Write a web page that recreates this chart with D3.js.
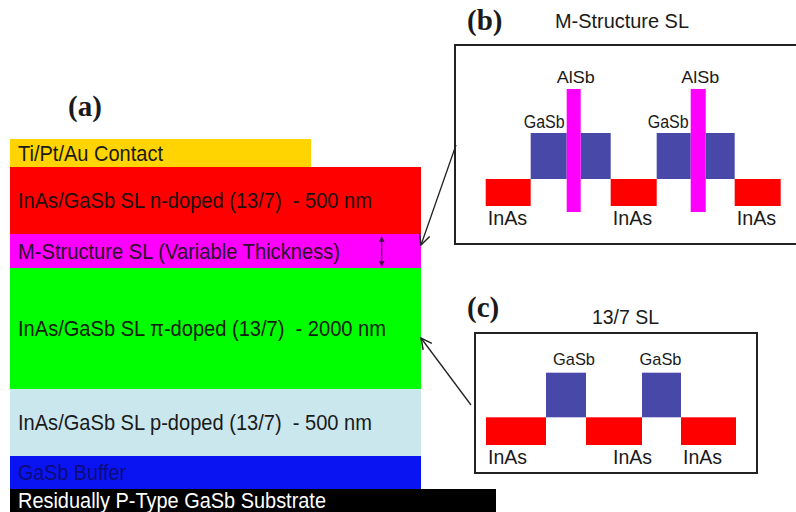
<!DOCTYPE html>
<html>
<head>
<meta charset="utf-8">
<script src="https://cdn.jsdelivr.net/npm/d3@7"></script>
<style>
  html, body { margin: 0; padding: 0; background: #ffffff; }
  svg { display: block; }
  text { white-space: pre; }
</style>
</head>
<body>
<script>
// ---------------- DATA ----------------
// (a) layer stack, top to bottom
const layerLabels = [
  "Ti/Pt/Au Contact",
  "InAs/GaSb SL n-doped (13/7)  - 500 nm",
  "M-Structure SL (Variable Thickness)",
  "InAs/GaSb SL \u03c0-doped (13/7)  - 2000 nm",
  "InAs/GaSb SL p-doped (13/7)  - 500 nm",
  "GaSb Buffer",
  "Residually P-Type GaSb Substrate"
];
const layerThickness = [28, 67, 34, 121, 67, 33, 23];     // drawn thickness (relative units)
const layerExtent    = [301, 411, 411, 411, 411, 411, 486]; // lateral extent (relative units)

// (b) M-structure superlattice sequence
const mMaterials = ["InAs", "GaSb", "AlSb", "GaSb", "InAs", "GaSb", "AlSb", "GaSb", "InAs"];
const mWidths    = [45, 36, 14, 30, 46, 34, 15, 29, 46];
const mBandLow   = { InAs: 38, GaSb: 65, AlSb: 32 };
const mBandHigh  = { InAs: 65, GaSb: 111, AlSb: 155 };

// (c) 13/7 superlattice sequence
const cMaterials = ["InAs", "GaSb", "InAs", "GaSb", "InAs"];
const cWidths    = [60, 40, 56, 39, 55];
const cBandLow   = { InAs: 28, GaSb: 55.7 };
const cBandHigh  = { InAs: 55.7, GaSb: 100.3 };

const panelLabels = ["(a)", "(b)", "(c)"];
const panelTitles = ["M-Structure SL", "13/7 SL"];

// ---------------- STYLE ----------------
const layerFill = ["#FFD400", "#FF0000", "#FF00FF", "#00FF00", "#CBE7EE", "#0A14F2", "#000000"];
const layerTextColor = ["#1a1a1a", "#1e1010", "#2a102a", "#102010", "#1a1a1a", "#0c0c7a", "#ffffff"];
const layerTextLen = [145, 354, 322, 368, 354, 108, 308];
const matFill = { InAs: "#FF0000", GaSb: "#4848A8", AlSb: "#FF00FF" };
const SANS = "'Liberation Sans', Arial, Helvetica, sans-serif";
const SERIF = "'Liberation Serif', 'Times New Roman', serif";

const W = 796, H = 512;
const svg = d3.select("body").append("svg")
  .attr("width", W).attr("height", H)
  .attr("viewBox", `0 0 ${W} ${H}`);
svg.append("rect").attr("width", W).attr("height", H).attr("fill", "#fff");

const defs = svg.append("defs");
defs.append("marker")
  .attr("id", "openHead").attr("viewBox", "0 0 12 12")
  .attr("refX", 11).attr("refY", 6)
  .attr("markerWidth", 13).attr("markerHeight", 13)
  .attr("markerUnits", "userSpaceOnUse")
  .attr("orient", "auto")
  .append("path").attr("d", "M1,1 L11,6 L1,11")
  .attr("fill", "none").attr("stroke", "#222").attr("stroke-width", 1.4);
["dEnd", "dStart"].forEach((id, i) => {
  defs.append("marker")
    .attr("id", id).attr("viewBox", "0 0 8 8")
    .attr("refX", 7).attr("refY", 4)
    .attr("markerWidth", 6).attr("markerHeight", 6)
    .attr("markerUnits", "userSpaceOnUse")
    .attr("orient", i === 0 ? "auto" : "auto-start-reverse")
    .append("path").attr("d", "M0,0 L8,4 L0,8 Z").attr("fill", "#4a0a4a");
});

// ---------------- (a) layer stack ----------------
const totalThick = d3.sum(layerThickness);
const yA = d3.scaleLinear().domain([0, totalThick]).range([139, 512]);
const xA = d3.scaleLinear().domain([0, 486]).range([10, 496]);
const cum = d3.cumsum(layerThickness);
const layers = layerLabels.map((lab, i) => ({
  label: lab, i,
  top: i === 0 ? 0 : cum[i - 1],
  bottom: cum[i],
  extent: layerExtent[i]
}));

const gA = svg.append("g");
gA.selectAll("rect.layer").data(layers).join("rect")
  .attr("class", "layer")
  .attr("x", xA(0))
  .attr("y", d => yA(d.top))
  .attr("width", d => xA(d.extent) - xA(0))
  .attr("height", d => yA(d.bottom) - yA(d.top))
  .attr("fill", d => layerFill[d.i]);

gA.selectAll("text.layer").data(layers).join("text")
  .attr("class", "layer")
  .attr("x", xA(8))
  .attr("y", d => (yA(d.top) + yA(d.bottom)) / 2 + 7.5)
  .attr("font-family", SANS).attr("font-size", 21.5)
  .attr("textLength", d => layerTextLen[d.i])
  .attr("lengthAdjust", "spacingAndGlyphs")
  .attr("fill", d => layerTextColor[d.i])
  .text(d => d.label);

// double arrow in M-structure layer
const mLayer = layers[2];
gA.append("line")
  .attr("x1", xA(371.7)).attr("x2", xA(371.7))
  .attr("y1", yA(mLayer.top) + 3).attr("y2", yA(mLayer.bottom) - 2)
  .attr("stroke", "#4a0a4a").attr("stroke-width", 1.2)
  .attr("marker-start", "url(#dStart)").attr("marker-end", "url(#dEnd)");

// ---------------- (b) M-structure ----------------
const xB = d3.scaleLinear().domain([0, 341]).range([455, 796]);
const yB = d3.scaleLinear().domain([0, 199]).range([244, 45]);
const mStart = 30.7;
const mCum = d3.cumsum(mWidths);
const mSegs = mMaterials.map((m, i) => ({
  mat: m, i,
  x0: mStart + (i === 0 ? 0 : mCum[i - 1]),
  x1: mStart + mCum[i]
}));

const gB = svg.append("g");
gB.append("rect")
  .attr("x", xB(0)).attr("y", yB(199))
  .attr("width", 360).attr("height", yB(0) - yB(199))
  .attr("fill", "none").attr("stroke", "#222").attr("stroke-width", 2);

// draw non-AlSb first, AlSb on top
const mOrder = mSegs.filter(d => d.mat !== "AlSb").concat(mSegs.filter(d => d.mat === "AlSb"));
gB.selectAll("rect.seg").data(mOrder).join("rect")
  .attr("class", "seg")
  .attr("x", d => xB(d.x0))
  .attr("y", d => yB(mBandHigh[d.mat]))
  .attr("width", d => xB(d.x1) - xB(d.x0))
  .attr("height", d => yB(mBandLow[d.mat]) - yB(mBandHigh[d.mat]))
  .attr("fill", d => matFill[d.mat]);

// labels
const mLabelData = [];
mSegs.forEach((d, i) => {
  if (d.mat === "InAs") {
    mLabelData.push({ t: "InAs", x: xB(d.x0) + 2, y: yB(mBandLow.InAs) + 18.5, anchor: "start", size: 20.5, len: 39.5 });
  } else if (d.mat === "AlSb") {
    mLabelData.push({ t: "AlSb", x: (xB(d.x0) + xB(d.x1)) / 2 + 2, y: yB(mBandHigh.AlSb) - 6, anchor: "middle", size: 17, len: 38 });
  } else if (d.mat === "GaSb" && mSegs[i + 1] && mSegs[i + 1].mat === "AlSb") {
    mLabelData.push({ t: "GaSb", x: xB(d.x1) - 2, y: yB(mBandHigh.GaSb) - 5, anchor: "end", size: 17.5, len: 41 });
  }
});
gB.selectAll("text.lab").data(mLabelData).join("text")
  .attr("class", "lab")
  .attr("x", d => d.x).attr("y", d => d.y)
  .attr("text-anchor", d => d.anchor)
  .attr("font-family", SANS).attr("font-size", d => d.size)
  .attr("textLength", d => d.len).attr("lengthAdjust", "spacingAndGlyphs")
  .attr("fill", "#1a1a1a")
  .text(d => d.t);

// ---------------- (c) 13/7 SL ----------------
const xC = d3.scaleLinear().domain([0, 282]).range([475, 757]);
const yC = d3.scaleLinear().domain([0, 140]).range([473, 333]);
const cStart = 11;
const cCum = d3.cumsum(cWidths);
const cSegs = cMaterials.map((m, i) => ({
  mat: m, i,
  x0: cStart + (i === 0 ? 0 : cCum[i - 1]),
  x1: cStart + cCum[i]
}));

const gC = svg.append("g");
gC.append("rect")
  .attr("x", xC(0)).attr("y", yC(140))
  .attr("width", xC(282) - xC(0)).attr("height", yC(0) - yC(140))
  .attr("fill", "none").attr("stroke", "#222").attr("stroke-width", 2);

gC.selectAll("rect.seg").data(cSegs).join("rect")
  .attr("class", "seg")
  .attr("x", d => xC(d.x0))
  .attr("y", d => yC(cBandHigh[d.mat]))
  .attr("width", d => xC(d.x1) - xC(d.x0))
  .attr("height", d => yC(cBandLow[d.mat]) - yC(cBandHigh[d.mat]))
  .attr("fill", d => matFill[d.mat]);

let inasCount = 0;
const cLabelData = cSegs.map(d => {
  if (d.mat === "InAs") {
    const k = inasCount++;
    if (k === 1) return { t: "InAs", x: xC(d.x1) + 10, y: yC(cBandLow.InAs) + 18.5, anchor: "end", size: 20, len: 39 };
    return { t: "InAs", x: xC(d.x0) + 2, y: yC(cBandLow.InAs) + 18.5, anchor: "start", size: 20, len: 39 };
  }
  return { t: "GaSb", x: (xC(d.x0) + xC(d.x1)) / 2 + (d.i === 1 ? 8 : -1), y: yC(cBandHigh.GaSb) - 8, anchor: "middle", size: 17, len: 42 };
});
gC.selectAll("text.lab").data(cLabelData).join("text")
  .attr("class", "lab")
  .attr("x", d => d.x).attr("y", d => d.y)
  .attr("text-anchor", d => d.anchor)
  .attr("font-family", SANS).attr("font-size", d => d.size)
  .attr("textLength", d => d.len).attr("lengthAdjust", "spacingAndGlyphs")
  .attr("fill", "#1a1a1a")
  .text(d => d.t);

// ---------------- arrows ----------------
svg.append("line")
  .attr("x1", xB(0) + 1).attr("y1", 145)
  .attr("x2", xA(411)).attr("y2", yA(mLayer.top) + 11)
  .attr("stroke", "#222").attr("stroke-width", 1.3)
  .attr("marker-end", "url(#openHead)");
svg.append("line")
  .attr("x1", xC(0) - 4).attr("y1", 405)
  .attr("x2", xA(411)).attr("y2", yA(layers[3].top) + 70)
  .attr("stroke", "#222").attr("stroke-width", 1.3)
  .attr("marker-end", "url(#openHead)");

// ---------------- panel labels & titles ----------------
const panelPos = [[68, 116], [467, 30], [467, 317]];
svg.selectAll("text.panel").data(panelLabels).join("text")
  .attr("class", "panel")
  .attr("x", (d, i) => panelPos[i][0]).attr("y", (d, i) => panelPos[i][1])
  .attr("font-family", SERIF).attr("font-weight", "bold").attr("font-size", 29)
  .attr("fill", "#1a1a1a")
  .text(d => d);

const titlePos = [[555, 28], [592, 324]];
const titleLen = [134, 67];
svg.selectAll("text.title").data(panelTitles).join("text")
  .attr("class", "title")
  .attr("x", (d, i) => titlePos[i][0]).attr("y", (d, i) => titlePos[i][1])
  .attr("font-family", SANS).attr("font-size", 21)
  .attr("textLength", (d, i) => titleLen[i]).attr("lengthAdjust", "spacingAndGlyphs")
  .attr("fill", "#1a1a1a")
  .text(d => d);
</script>
</body>
</html>
